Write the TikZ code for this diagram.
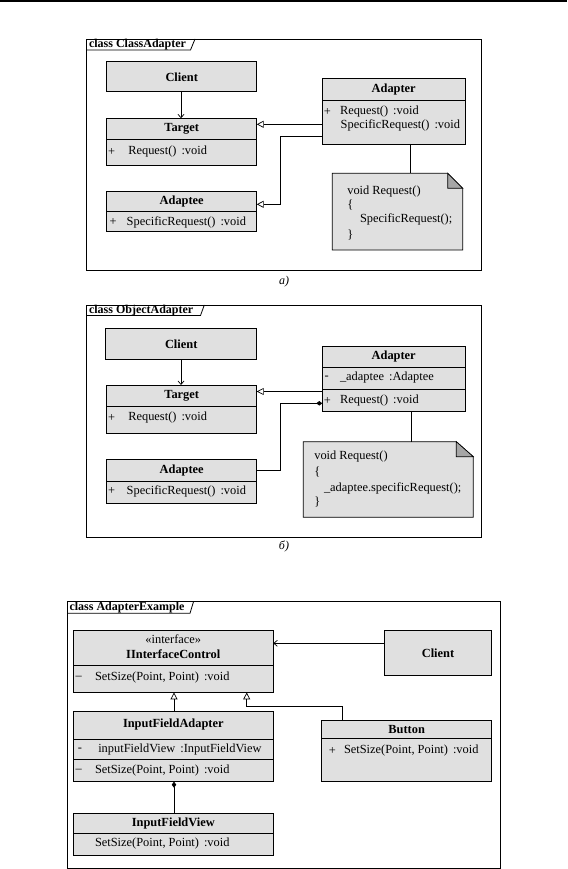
\documentclass[tikz,border=0pt]{standalone}
\usepackage{fontspec}
\setmainfont{Liberation Serif}
\usetikzlibrary{arrows.meta}
\definecolor{boxgray}{RGB}{224,224,224}
\definecolor{foldgray}{RGB}{166,166,166}
\begin{document}
\begin{tikzpicture}[x=1pt,y=-1pt,
  font=\fontsize{12.4}{14}\selectfont,
  every node/.style={inner sep=0pt, outer sep=0pt},
  cls/.style={draw, fill=boxgray, line width=0.7pt, anchor=north west},
  frm/.style={draw, line width=0.8pt},
  nm/.style={font=\fontsize{12.4}{14}\selectfont\bfseries},
  ttl/.style={font=\fontsize{12}{14}\selectfont\bfseries, anchor=west},
  tx/.style={anchor=west},
  conn/.style={line width=0.7pt},
  gen/.style={conn, -{Triangle[open,length=7pt,width=7pt]}},
  assoc/.style={conn, -{Straight Barb[length=3.5pt,width=6pt]}},
  comp/.style={conn, {Diamond[length=6pt,width=4.5pt]}-},
  notebg/.style={draw, fill=boxgray, line width=0.7pt},
  foldc/.style={draw, fill=foldgray, line width=0.7pt},
  captxt/.style={font=\fontsize{12}{14}\selectfont\itshape},
  ]
\useasboundingbox (0,0) rectangle (567,869);
\draw[line width=1.2pt] (0,1) -- (567,1);

% ================= Frame 1 =================
\draw[frm] (86.7,39) rectangle (481,270);
\draw[frm] (86.7,50) -- (190.5,50) -- (195,39);
\node[ttl] (f1t) at (89,44.5) {class ClassAdapter};

\node[cls, minimum width=150pt, minimum height=30pt] (c1) at (106.7,61.7) {};
\node[nm] (c1n) at (181.7,77) {Client};

\node[cls, minimum width=150pt, minimum height=46.7pt] (t1) at (106.7,118.3) {};
\draw[conn] (t1.west |- 0,139) -- (t1.east |- 0,139);
\node[nm] (t1n) at (181.7,129) {Target};
\node (t1v) at (111.7,151.7) {+};
\node[tx] (t1a) at (128.3,151.7) {Request()\hspace{5pt}:void};

\node[cls, minimum width=150pt, minimum height=40pt] (ad1) at (106.7,191.7) {};
\draw[conn] (ad1.west |- 0,211) -- (ad1.east |- 0,211);
\node[nm] (ad1n) at (181.7,201.3) {Adaptee};
\node (ad1v) at (113,222.3) {+};
\node[tx] (ad1a) at (126.7,222.3) {SpecificRequest()\hspace{5pt}:void};

\node[cls, minimum width=142.7pt, minimum height=65.7pt] (a1) at (322.3,78.3) {};
\draw[conn] (a1.west |- 0,100.3) -- (a1.east |- 0,100.3);
\node[nm] (a1n) at (393.7,89.3) {Adapter};
\node (a1v) at (327.3,111.7) {+};
\node[tx] (a1a) at (340,111.7) {Request()\hspace{5pt}:void};
\node[tx] (a1b) at (340.7,125) {SpecificRequest()\hspace{5pt}:void};

\node[minimum width=130.4pt, minimum height=76.7pt, anchor=north west] (n1) at (332.3,173.3) {};
\draw[notebg] (n1.north west) -- ([xshift=-15pt]n1.north east) -- ([yshift=-15pt]n1.north east) -- (n1.south east) -- (n1.south west) -- cycle;
\draw[foldc] ([xshift=-15pt]n1.north east) -- ([xshift=-15pt,yshift=-15pt]n1.north east) -- ([yshift=-15pt]n1.north east) -- cycle;
\node[tx] (n1a) at (347.3,191.7) {void Request()};
\node[tx] (n1b) at (347.3,205) {\{};
\node[tx] (n1c) at (360,219.3) {SpecificRequest();};
\node[tx] (n1d) at (347.3,235) {\}};

\draw[assoc] (c1.south -| 181,0) -- (t1.north -| 181,0);
\draw[gen] (a1.west |- 0,124.3) -- (t1.east |- 0,124.3);
\draw[gen] (a1.west |- 0,136.7) -- (280,136.7) -- (280,204.3) -- (ad1.east |- 0,204.3);
\draw[conn] (a1.south -| 410.7,0) -- (n1.north -| 410.7,0);

\node[captxt] (capa) at (284,281.5) {а)};

% ================= Frame 2 =================
\draw[frm] (86.7,305) rectangle (481,537.3);
\draw[frm] (86.7,315.5) -- (200.5,315.5) -- (204.3,305);
\node[ttl] (f2t) at (89,310.3) {class ObjectAdapter};

\node[cls, minimum width=151pt, minimum height=31pt] (c2) at (105.7,328.3) {};
\node[nm] (c2n) at (181.2,343.8) {Client};

\node[cls, minimum width=150pt, minimum height=48.3pt] (t2) at (106.7,385) {};
\draw[conn] (t2.west |- 0,406.7) -- (t2.east |- 0,406.7);
\node[nm] (t2n) at (181.7,396.3) {Target};
\node (t2v) at (111.7,418) {+};
\node[tx] (t2a) at (128.3,418) {Request()\hspace{5pt}:void};

\node[cls, minimum width=150pt, minimum height=44pt] (ad2) at (106.7,459.3) {};
\draw[conn] (ad2.west |- 0,481) -- (ad2.east |- 0,481);
\node[nm] (ad2n) at (181.7,470.3) {Adaptee};
\node (ad2v) at (111.7,491) {+};
\node[tx] (ad2a) at (126.7,491) {SpecificRequest()\hspace{5pt}:void};

\node[cls, minimum width=142.7pt, minimum height=65pt] (a2) at (322.3,346) {};
\draw[conn] (a2.west |- 0,367.7) -- (a2.east |- 0,367.7);
\draw[conn] (a2.west |- 0,389.3) -- (a2.east |- 0,389.3);
\node[nm] (a2n) at (393.7,356.7) {Adapter};
\node (a2v) at (326.7,377.7) {-};
\node[tx] (a2a) at (340,377.7) {\_adaptee\hspace{5pt}:Adaptee};
\node (a2w) at (327.3,401) {+};
\node[tx] (a2b) at (340,401) {Request()\hspace{5pt}:void};

\node[minimum width=170pt, minimum height=75.6pt, anchor=north west] (n2) at (303.3,441.7) {};
\draw[notebg] (n2.north west) -- ([xshift=-17pt]n2.north east) -- ([yshift=-15pt]n2.north east) -- (n2.south east) -- (n2.south west) -- cycle;
\draw[foldc] ([xshift=-17pt]n2.north east) -- ([xshift=-17pt,yshift=-15pt]n2.north east) -- ([yshift=-15pt]n2.north east) -- cycle;
\node[tx] (n2a) at (314.3,456.7) {void Request()};
\node[tx] (n2b) at (314.3,471.7) {\{};
\node[tx] (n2c) at (324,488.3) {\_adaptee.specificRequest();};
\node[tx] (n2d) at (314.3,501.7) {\}};

\draw[assoc] (c2.south -| 181,0) -- (t2.north -| 181,0);
\draw[gen] (a2.west |- 0,391.5) -- (t2.east |- 0,391.5);
\draw[comp] (a2.west |- 0,403.3) -- (280.5,403.3) -- (280.5,470.7) -- (ad2.east |- 0,470.7);
\draw[conn] (a2.south -| 411.7,0) -- (n2.north -| 411.7,0);

\node[captxt] (capb) at (284,546) {б)};

% ================= Frame 3 =================
\draw[frm] (67.3,601.7) rectangle (500,868.3);
\draw[frm] (67.3,613.3) -- (190,613.3) -- (193.5,601.7);
\node[ttl] (f3t) at (69.5,607.5) {class AdapterExample};

\node[cls, minimum width=200pt, minimum height=61.7pt] (ic) at (73.3,630.7) {};
\draw[conn] (ic.west |- 0,665.7) -- (ic.east |- 0,665.7);
\node (icst) at (173.3,638.8) {«interface»};
\node[nm] (icn) at (173.3,654.5) {IInterfaceControl};
\node (icv) at (78.8,677.7) {–};
\node[tx] (ica) at (95,677.7) {SetSize(Point, Point)\hspace{5pt}:void};

\node[cls, minimum width=107.4pt, minimum height=44.3pt] (c3) at (384.3,630.7) {};
\node[nm] (c3n) at (438,653.3) {Client};

\node[cls, minimum width=170pt, minimum height=61pt] (bt) at (321.7,720) {};
\draw[conn] (bt.west |- 0,738.3) -- (bt.east |- 0,738.3);
\node[nm] (btn) at (406.7,729.3) {Button};
\node (btv) at (332.3,751) {+};
\node[tx] (bta) at (344,751) {SetSize(Point, Point)\hspace{5pt}:void};

\node[cls, minimum width=200pt, minimum height=70.7pt] (ifa) at (73.3,711) {};
\draw[conn] (ifa.west |- 0,739) -- (ifa.east |- 0,739);
\draw[conn] (ifa.west |- 0,759.3) -- (ifa.east |- 0,759.3);
\node[nm] (ifan) at (173.3,725) {InputFieldAdapter};
\node (ifav) at (80,749.3) {-};
\node[tx] (ifaa) at (98.3,749.3) {inputFieldView\hspace{5pt}:InputFieldView};
\node (ifaw) at (78.8,770.7) {–};
\node[tx] (ifab) at (95,770.7) {SetSize(Point, Point)\hspace{5pt}:void};

\node[cls, minimum width=200pt, minimum height=41.7pt] (ifv) at (73.3,813.3) {};
\draw[conn] (ifv.west |- 0,833.3) -- (ifv.east |- 0,833.3);
\node[nm] (ifvn) at (173.3,823.3) {InputFieldView};
\node[tx] (ifva) at (95,843.3) {SetSize(Point, Point)\hspace{5pt}:void};

\draw[assoc] (c3.west |- 0,643.3) -- (ic.east |- 0,643.3);
\draw[gen] (bt.north -| 342.3,0) -- (342.3,706) -- (246.7,706) -- (ic.south -| 246.7,0);
\draw[gen] (ifa.north -| 174,0) -- (ic.south -| 174,0);
\draw[comp] (ifa.south -| 174,0) -- (ifv.north -| 174,0);
\end{tikzpicture}
\end{document}
